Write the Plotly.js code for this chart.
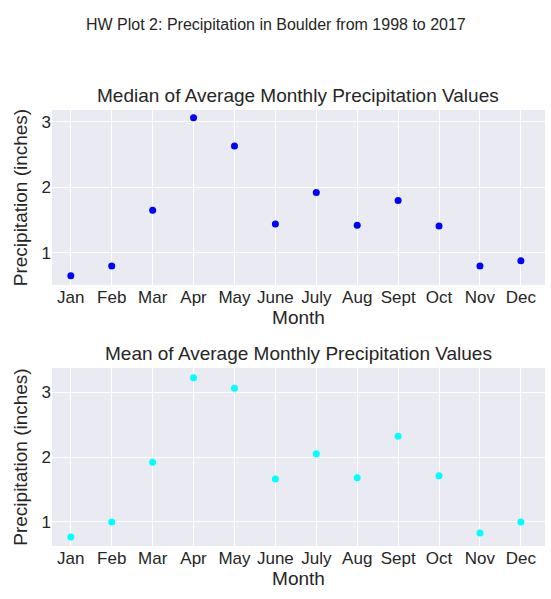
<!DOCTYPE html>
<html>
<head>
<script src="https://cdn.plot.ly/plotly-3.0.1.min.js"></script>
<style>body{margin:0}</style>
</head>
<body>
<div id="graph" style="width:551px;height:599px"></div>
<script>
const months = ['Jan', 'Feb', 'Mar', 'Apr', 'May', 'June', 'July', 'Aug', 'Sept', 'Oct', 'Nov', 'Dec'];
const medianPrecip = [0.65, 0.80, 1.65, 3.06, 2.63, 1.44, 1.92, 1.42, 1.80, 1.41, 0.80, 0.88];
const meanPrecip = [0.77, 1.00, 1.92, 3.22, 3.06, 1.66, 2.05, 1.68, 2.32, 1.71, 0.83, 1.00];

const font = { family: 'Liberation Sans, Arial, sans-serif', color: '#262626' };
const xIdx = months.map((m, i) => i);

function xAxis(anchor) {
  return {
    anchor, domain: [52 / 551, 545 / 551], range: [-0.46, 11.59],
    tickvals: xIdx, ticktext: months, showgrid: true, gridcolor: 'white', gridwidth: 1.3,
    zeroline: false, ticks: '', tickfont: { size: 17 },
    title: { text: 'Month', font: { size: 19 }, standoff: 2 },
  };
}
function yAxis(anchor, domain, range) {
  return {
    anchor, domain, range, tickvals: [1, 2, 3], showgrid: true, gridcolor: 'white', gridwidth: 1.3,
    zeroline: false, ticks: '', tickfont: { size: 17 },
    title: { text: 'Precipitation (inches)', font: { size: 19 }, standoff: 8 },
  };
}
const marker = (c) => ({ color: c, size: 7 });

Plotly.newPlot('graph', [
  { x: xIdx, y: medianPrecip, mode: 'markers', type: 'scatter', cliponaxis: false, marker: marker('blue'), xaxis: 'x', yaxis: 'y' },
  { x: xIdx, y: meanPrecip, mode: 'markers', type: 'scatter', cliponaxis: false, marker: marker('cyan'), xaxis: 'x2', yaxis: 'y2' },
], {
  width: 551, height: 599, showlegend: false, font,
  paper_bgcolor: 'white', plot_bgcolor: '#EAEAF2',
  margin: { l: 0, r: 0, t: 0, b: 0 },
  xaxis: xAxis('y'),
  yaxis: yAxis('x', [1 - 285 / 599, 1 - 110 / 599], [0.51, 3.18]),
  xaxis2: xAxis('y2'),
  yaxis2: yAxis('x2', [1 - 546 / 599, 1 - 368 / 599], [0.63, 3.37]),
  annotations: [
    { text: 'HW Plot 2: Precipitation in Boulder from 1998 to 2017', x: 0.5, y: 1 - 14 / 599, xref: 'paper', yref: 'paper', showarrow: false, font: { size: 16 } },
    { text: 'Median of Average Monthly Precipitation Values', x: 298 / 551, y: 1 - 108 / 599, yanchor: 'bottom', xref: 'paper', yref: 'paper', showarrow: false, font: { size: 19 } },
    { text: 'Mean of Average Monthly Precipitation Values', x: 298 / 551, y: 1 - 366 / 599, yanchor: 'bottom', xref: 'paper', yref: 'paper', showarrow: false, font: { size: 19 } },
  ],
}, { displayModeBar: false });
</script>
</body>
</html>
